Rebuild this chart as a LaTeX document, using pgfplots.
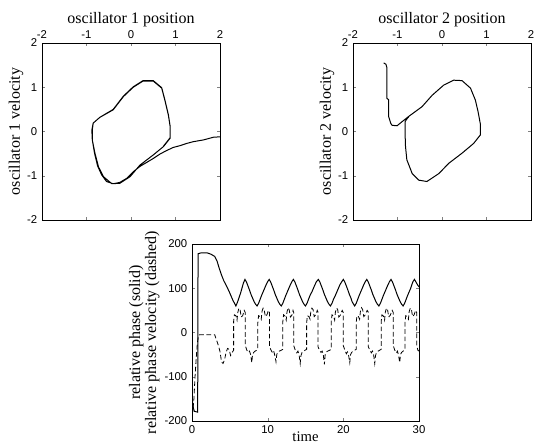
\documentclass[border=0pt]{standalone}
\usepackage{fontspec}
\setmainfont{Liberation Serif}
\newfontfamily\ticksans{Liberation Sans}
\usepackage{pgfplots}
\pgfplotsset{compat=1.18}

\pgfplotsset{
  osc/.style={
    scale only axis,
    width=133.5pt, height=132.75pt,
    xmin=-2, xmax=2, ymin=-2, ymax=2,
    xtick={-2,-1,0,1,2}, ytick={-2,-1,0,1,2},
    xticklabel pos=upper,
    tick pos=both, tick align=inside,
    major tick length=2.5pt,
    /pgf/number format/assume math mode=true,
    ticklabel style={font=\ticksans\fontsize{8.5}{9}\selectfont},
    label style={font=\fontsize{12}{13}\selectfont},
    xlabel style={yshift=-4.5pt},
    ylabel style={yshift=-4pt},
    axis line style={line width=0.7pt},
  },
  trace/.style={black, line width=0.75pt},
}

\begin{document}
\begin{tikzpicture}
\useasboundingbox (0,0) rectangle (400.5pt,333pt);

% oscillator 1 phase portrait
\begin{axis}[osc, at={(31.5pt,168pt)},
  xlabel={oscillator 1 position},
  ylabel={oscillator 1 velocity}]
\addplot[trace] table[row sep=crcr] {%
2.00 -0.12\\ 1.85 -0.13\\ 1.63 -0.19\\ 1.40 -0.23\\ 1.25 -0.27\\
1.10 -0.32\\ 0.95 -0.36\\ 0.80 -0.43\\ 0.65 -0.51\\ 0.50 -0.61\\
0.35 -0.70\\ 0.20 -0.79\\ 0.05 -0.91\\ -0.10 -1.06\\ -0.25 -1.15\\
-0.40 -1.18\\ -0.55 -1.13\\ -0.66 -0.98\\ -0.75 -0.78\\ -0.82 -0.49\\
-0.87 -0.19\\ -0.88 0.03\\ -0.85 0.19\\ -0.70 0.32\\ -0.40 0.49\\
-0.17 0.79\\ 0.05 1.00\\ 0.27 1.14\\ 0.50 1.14\\ 0.69 0.98\\
0.76 0.71\\ 0.84 0.37\\ 0.88 0.11\\ 0.88 -0.15\\ 0.73 -0.34\\
0.50 -0.53\\ 0.20 -0.76\\ -0.02 -1.02\\ -0.25 -1.17\\ -0.43 -1.18\\
-0.62 -1.02\\ -0.73 -0.80\\ -0.81 -0.49\\ -0.87 -0.19\\ -0.87 0.03\\
-0.85 0.19\\ -0.70 0.32\\ -0.40 0.50\\ -0.17 0.80\\ 0.05 1.01\\
0.27 1.15\\ 0.50 1.15\\ 0.69 0.99\\ 0.76 0.72\\ 0.84 0.38\\
0.88 0.12\\ 0.88 -0.14\\ 0.73 -0.33\\
};
\end{axis}

% oscillator 2 phase portrait
\begin{axis}[osc, at={(264.75pt,168pt)},
  xlabel={oscillator 2 position},
  ylabel={oscillator 2 velocity}]
\addplot[trace] table[row sep=crcr] {%
-1.31 1.55\\ -1.26 1.52\\ -1.24 1.45\\ -1.24 0.75\\ -1.20 0.72\\
-1.20 0.34\\ -1.15 0.18\\ -1.12 0.14\\ -1.01 0.13\\ -0.90 0.22\\
-0.75 0.34\\ -0.45 0.56\\ -0.22 0.82\\ 0.04 1.05\\ 0.26 1.16\\
0.45 1.15\\ 0.64 0.98\\ 0.75 0.71\\ 0.81 0.45\\ 0.86 0.18\\
0.86 -0.08\\ 0.71 -0.27\\ 0.45 -0.49\\ 0.15 -0.72\\ -0.07 -0.95\\
-0.34 -1.13\\ -0.52 -1.10\\ -0.67 -0.95\\ -0.79 -0.64\\ -0.82 -0.34\\
-0.83 -0.04\\ -0.83 0.22\\ -0.80 0.27\\ -0.75 0.33\\
};
\end{axis}

% relative phase over time
\begin{axis}[
  at={(144pt,17.25pt)},
  scale only axis,
  width=170.25pt, height=132.75pt,
  xmin=0, xmax=30, ymin=-200, ymax=200,
  xtick={0,10,20,30}, ytick={-200,-100,0,100,200},
  tick pos=both, tick align=inside,
  major tick length=2.5pt,
  /pgf/number format/assume math mode=true,
  ticklabel style={font=\ticksans\fontsize{8.5}{9}\selectfont},
  label style={font=\fontsize{12}{10}\selectfont},
  axis line style={line width=0.7pt},
  xlabel={time},
  xlabel style={yshift=8.5pt, font=\fontsize{11}{11}\selectfont},
  ylabel style={align=center, yshift=-3pt},
  ylabel={relative phase (solid)\\relative phase velocity (dashed)},
]
\addplot[trace] table[row sep=crcr] {%
0 -130\\ 0.1 -165\\ 0.3 -178\\ 0.75 -180\\ 0.8 178\\ 1.2 180\\ 2.0 180\\
2.5 177\\ 3.0 172\\ 3.3 162\\ 3.6 145\\ 3.9 130\\ 4.2 117\\ 4.6 104\\
5.0 89\\ 5.4 73\\ 5.8 60\\
6.0 68\\ 6.2 78\\ 6.4 88\\ 6.6 100\\ 6.8 112\\ 7.0 120\\
7.2 114\\ 7.4 105\\ 7.6 96\\ 7.8 86\\ 8.0 78\\ 8.2 70\\ 8.4 64\\ 8.6 60\\
8.8 66\\ 9.0 75\\ 9.2 84\\ 9.4 92\\ 9.6 100\\ 9.8 108\\ 10.0 115\\ 10.2 120\\
10.4 114\\ 10.6 105\\ 10.8 96\\ 11.0 86\\ 11.2 78\\ 11.4 70\\ 11.6 64\\ 11.8 60\\
12.0 66\\ 12.2 75\\ 12.4 84\\ 12.6 92\\ 12.8 100\\ 13.0 108\\ 13.2 115\\ 13.4 120\\
13.6 114\\ 13.8 105\\ 14.0 96\\ 14.2 86\\ 14.4 78\\ 14.6 70\\ 14.8 64\\ 15.0 60\\
15.2 66\\ 15.4 75\\ 15.6 84\\ 15.85 92\\ 16.05 100\\ 16.25 108\\ 16.45 115\\ 16.7 120\\
16.9 114\\ 17.1 105\\ 17.3 96\\ 17.5 86\\ 17.7 78\\ 17.9 70\\ 18.1 64\\ 18.3 60\\
18.5 66\\ 18.7 75\\ 18.95 84\\ 19.15 92\\ 19.35 100\\ 19.55 108\\ 19.8 115\\ 20.0 120\\
20.2 114\\ 20.4 105\\ 20.6 96\\ 20.8 86\\ 21.0 78\\ 21.15 70\\ 21.35 64\\ 21.5 60\\
21.7 66\\ 21.9 75\\ 22.1 84\\ 22.3 92\\ 22.5 100\\ 22.7 108\\ 22.9 115\\ 23.1 120\\
23.3 114\\ 23.5 105\\ 23.7 96\\ 23.9 86\\ 24.1 78\\ 24.3 70\\ 24.5 64\\ 24.7 60\\
24.9 66\\ 25.1 75\\ 25.3 84\\ 25.5 92\\ 25.7 100\\ 25.9 108\\ 26.1 115\\ 26.3 120\\
26.5 114\\ 26.7 105\\ 26.9 96\\ 27.1 86\\ 27.3 78\\ 27.5 70\\ 27.7 64\\ 27.9 60\\
28.1 66\\ 28.3 75\\ 28.5 84\\ 28.7 92\\ 28.9 100\\ 29.05 108\\ 29.2 115\\ 29.4 120\\
29.6 114\\ 29.8 108\\ 30.0 103\\
};
\addplot[trace, line width=0.6pt, dash pattern=on 3.5pt off 2pt] table[row sep=crcr] {%
0 -140\\ 0.1 -180\\ 0.25 -150\\ 0.4 -100\\ 0.55 -60\\ 0.7 -25\\ 0.85 -8\\ 1.0 -5\\
3.0 -5\\ 3.2 -15\\ 3.5 -30\\ 3.7 -43\\ 3.9 -66\\ 4.1 -70\\ 4.3 -62\\ 4.5 -45\\
4.7 -36\\ 4.9 -38\\ 5.1 -52\\ 5.3 -45\\ 5.5 -40\\
5.5 25\\ 5.6 40\\ 5.8 38\\ 5.95 28\\ 6.05 45\\ 6.2 55\\ 6.35 52\\ 6.5 35\\ 6.7 38\\ 6.9 50\\ 7.05 45\\
7.05 -30\\ 7.25 -40\\ 7.45 -45\\ 7.6 -42\\ 7.75 -50\\ 7.9 -68\\ 8.0 -50\\ 8.15 -45\\ 8.35 -42\\ 8.55 -40\\ 8.7 -38\\
8.7 22\\ 8.8 38\\ 9.0 36\\ 9.15 30\\ 9.25 48\\ 9.4 55\\ 9.55 50\\ 9.7 36\\ 9.9 40\\ 10.1 50\\ 10.25 45\\
10.25 -32\\ 10.45 -40\\ 10.65 -46\\ 10.8 -42\\ 10.95 -52\\ 11.1 -66\\ 11.2 -50\\ 11.35 -44\\ 11.55 -42\\ 11.8 -40\\ 12.0 -38\\
12.0 24\\ 12.1 40\\ 12.3 37\\ 12.45 28\\ 12.55 46\\ 12.7 56\\ 12.85 51\\ 13.0 35\\ 13.2 39\\ 13.35 50\\ 13.45 45\\
13.45 -30\\ 13.65 -40\\ 13.85 -46\\ 14.0 -42\\ 14.15 -50\\ 14.3 -70\\ 14.4 -52\\ 14.55 -45\\ 14.75 -42\\ 14.95 -40\\ 15.15 -38\\
15.15 22\\ 15.25 38\\ 15.45 36\\ 15.6 30\\ 15.7 47\\ 15.85 55\\ 16.0 52\\ 16.15 36\\ 16.35 40\\ 16.55 50\\ 16.65 46\\
16.65 -32\\ 16.85 -40\\ 17.05 -45\\ 17.2 -42\\ 17.35 -50\\ 17.5 -72\\ 17.6 -50\\ 17.75 -44\\ 17.95 -42\\ 18.2 -40\\ 18.4 -38\\
18.4 24\\ 18.5 40\\ 18.7 37\\ 18.85 28\\ 18.95 46\\ 19.1 55\\ 19.25 52\\ 19.4 35\\ 19.6 39\\ 19.85 50\\ 20.0 45\\
20.0 -30\\ 20.2 -40\\ 20.4 -48\\ 20.55 -44\\ 20.7 -52\\ 20.85 -68\\ 20.95 -50\\ 21.1 -45\\ 21.3 -42\\ 21.5 -40\\ 21.7 -38\\
21.7 22\\ 21.8 38\\ 22.0 36\\ 22.15 30\\ 22.25 47\\ 22.4 56\\ 22.55 52\\ 22.7 36\\ 22.9 40\\ 23.15 50\\ 23.3 46\\
23.3 -32\\ 23.5 -40\\ 23.7 -46\\ 23.85 -42\\ 24.0 -50\\ 24.15 -70\\ 24.25 -52\\ 24.4 -45\\ 24.6 -42\\ 24.8 -40\\ 25.0 -38\\
25.0 24\\ 25.1 40\\ 25.3 37\\ 25.45 28\\ 25.55 46\\ 25.7 55\\ 25.85 51\\ 26.0 35\\ 26.2 39\\ 26.45 50\\ 26.6 45\\
26.6 -30\\ 26.8 -40\\ 27.0 -46\\ 27.15 -42\\ 27.3 -52\\ 27.45 -68\\ 27.55 -50\\ 27.7 -45\\ 27.9 -42\\ 28.05 -40\\ 28.15 -38\\
28.15 22\\ 28.25 38\\ 28.45 36\\ 28.6 30\\ 28.7 47\\ 28.85 55\\ 29.0 52\\ 29.15 36\\ 29.35 40\\ 29.55 50\\ 29.7 45\\
29.7 -30\\ 29.85 -40\\ 30.0 -42\\
};
\end{axis}
\end{tikzpicture}
\end{document}
